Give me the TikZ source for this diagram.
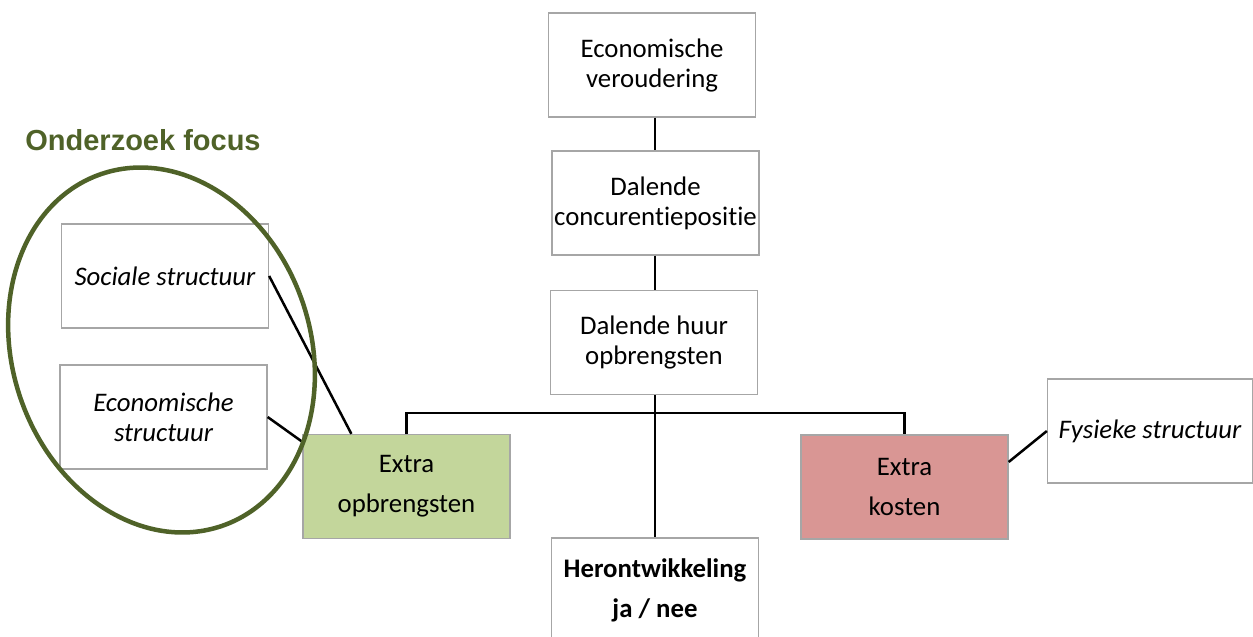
\documentclass[tikz,border=0pt]{standalone}
\usepackage{fontspec}
\setmainfont{Carlito}[Ligatures=NoCommon]
\newfontfamily\titlefont{Liberation Sans}
\usetikzlibrary{calc}
\definecolor{focusgreen}{HTML}{4F6228}
\definecolor{boxgray}{HTML}{A6A6A6}
\definecolor{greenfill}{HTML}{C3D69B}
\definecolor{redfill}{HTML}{D99694}
\begin{document}
\begin{tikzpicture}[x=1pt,y=-1pt,
  box/.style={draw=boxgray, line width=1.3pt, fill=white, inner sep=0pt,
    align=center, minimum width=207pt, minimum height=104pt,
    font=\fontsize{26.8}{30}\selectfont},
  widebox/.style={box, font=\fontsize{26.8}{40}\selectfont},
  conn/.style={line width=2.5pt, black},
  focus/.style={draw=focusgreen, line width=4.5pt}]
\useasboundingbox (0,0) rectangle (1253,637);
\clip (0,0) rectangle (1253,637);
% title
\node[font=\titlefont\bfseries\fontsize{29}{34}\selectfont, text=focusgreen] (title) at (143,140) {Onderzoek focus};
% central chain
\node[box] (eco) at (652,65) {Economische\\veroudering};
\node[box] (conc) at (655.5,203) {Dalende\\concurentiepositie};
\node[box] (huur) at (654,342.5) {Dalende huur\\opbrengsten};
\node[widebox, fill=greenfill] (green) at (406.5,486.5) {Extra\\opbrengsten};
\node[widebox, fill=redfill] (red) at (904.5,487) {Extra\\kosten};
\node[widebox, font=\bfseries\fontsize{26.8}{40}\selectfont] (heron) at (655,590) {Herontwikkeling\\ja / nee};
% side boxes
\node[box, font=\itshape\fontsize{26.8}{30}\selectfont] (soc) at (165,276) {Sociale structuur};
\node[box, font=\itshape\fontsize{26.8}{30}\selectfont] (ecs) at (163.5,417) {Economische\\structuur};
\node[box, font=\itshape\fontsize{26.8}{30}\selectfont, minimum width=205pt] (fys) at (1150,431) {Fysieke structuur};
% connectors
\coordinate (bus) at (655,413);
\draw[conn] (eco.south -| bus) -- (conc.north -| bus);
\draw[conn] (conc.south -| bus) -- (huur.north -| bus);
\draw[conn] (huur.south -| bus) -- (heron.north);
\draw[conn] (green.north) |- (bus) -| (red.north);
\draw[conn] (soc.east) -- ([xshift=49pt]green.north west);
\draw[conn] (ecs.east) -- ([yshift=-8pt]green.north west);
\draw[conn] ([yshift=25pt]red.east) -- (fys.west);
% focus ellipse
\draw[focus, rotate around={19:(161.5,350)}] (161.5,350) ellipse [x radius=149, y radius=186];
\end{tikzpicture}
\end{document}
